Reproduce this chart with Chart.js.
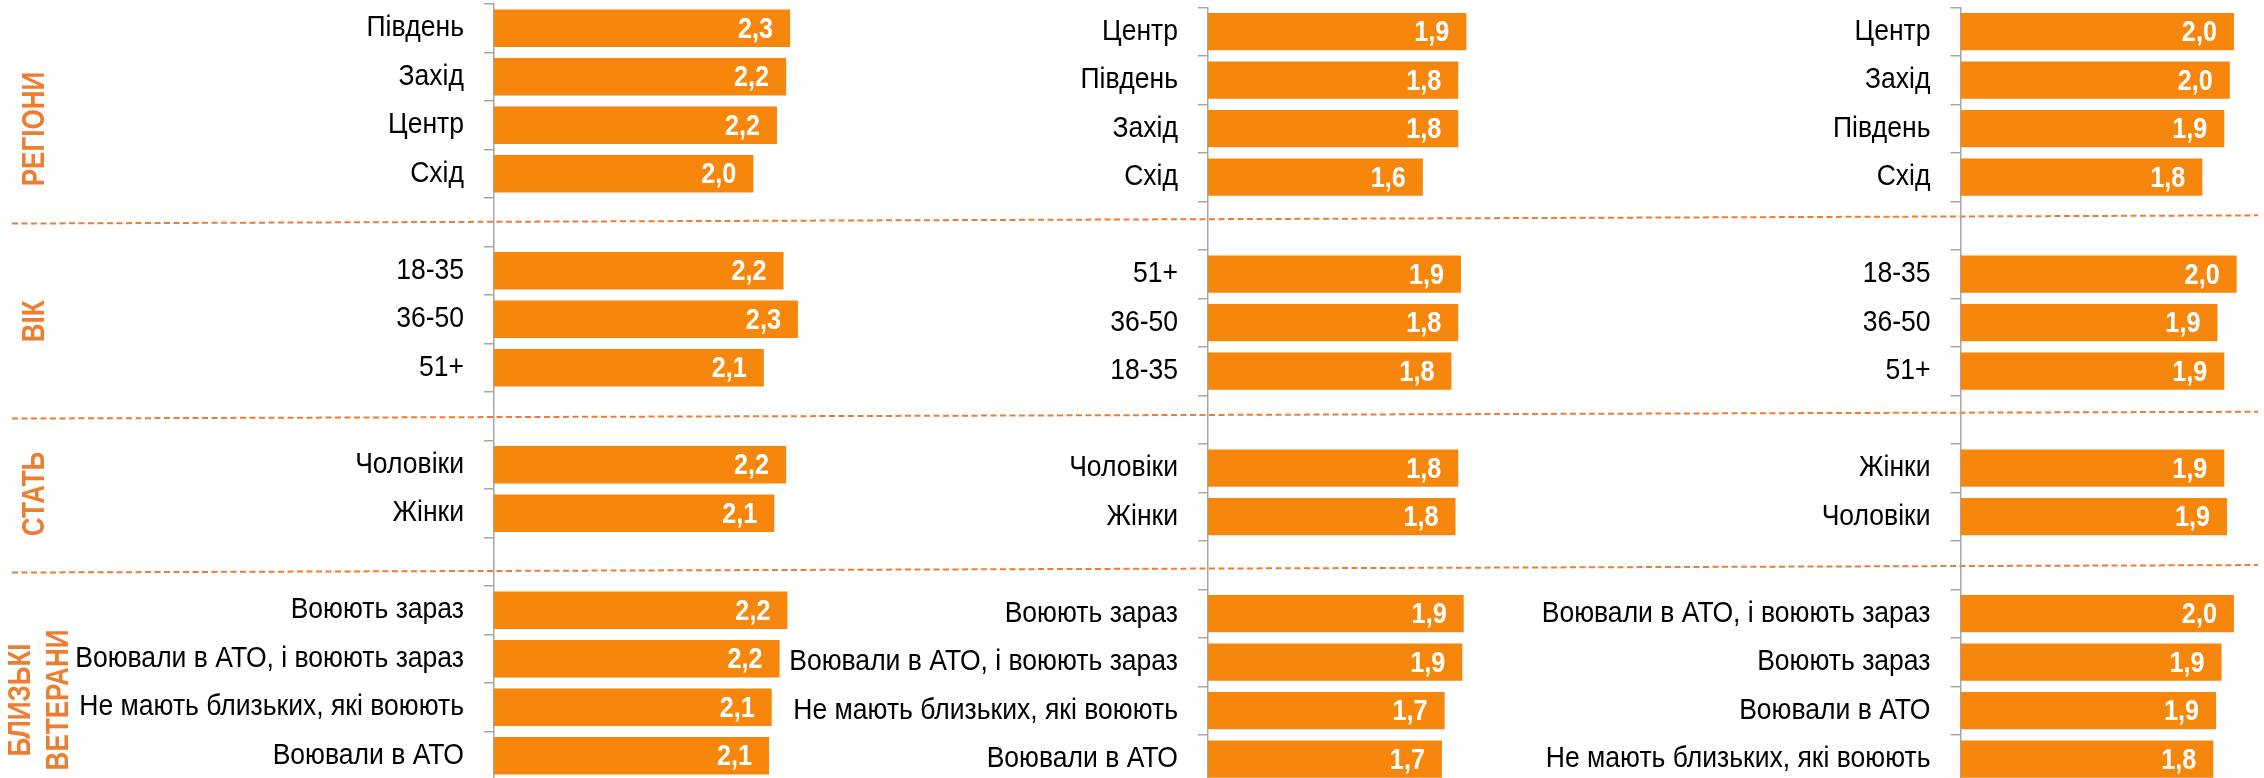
<!DOCTYPE html>
<html><head><meta charset="utf-8">
<script src="https://cdn.jsdelivr.net/npm/chart.js@4.4.1/dist/chart.umd.min.js"></script>
<style>
html,body{margin:0;padding:0;background:#fff;overflow:hidden;width:2264px;height:778px}
canvas{position:absolute;left:0;top:0}
</style></head>
<body>
<canvas id="c1" width="2264" height="790"></canvas>
<canvas id="c2" width="2264" height="790"></canvas>
<canvas id="c3" width="2264" height="790"></canvas>
<script>
// ---- data ----
const labelsA = ['Південь','Захід','Центр','Схід','','18-35','36-50','51+','','Чоловіки','Жінки','','Воюють зараз','Воювали в АТО, і воюють зараз','Не мають близьких, які воюють','Воювали в АТО'];
const valuesA = [2.26,2.23,2.16,1.98,null,2.21,2.32,2.06,null,2.23,2.14,null,2.24,2.18,2.12,2.10];

const labelsB = ['Центр','Південь','Захід','Схід','','51+','36-50','18-35','','Чоловіки','Жінки','','Воюють зараз','Воювали в АТО, і воюють зараз','Не мають близьких, які воюють','Воювали в АТО'];
const valuesB = [1.90,1.84,1.84,1.58,null,1.86,1.84,1.79,null,1.84,1.82,null,1.88,1.87,1.74,1.72];

const labelsC = ['Центр','Захід','Південь','Схід','','18-35','36-50','51+','','Жінки','Чоловіки','','Воювали в АТО, і воюють зараз','Воюють зараз','Воювали в АТО','Не мають близьких, які воюють'];
const valuesC = [1.99,1.96,1.92,1.76,null,2.01,1.87,1.92,null,1.92,1.94,null,1.99,1.90,1.86,1.84];

const groupNames = [['РЕГІОНИ'],['ВІК'],['СТАТЬ'],['БЛИЗЬКІ','ВЕТЕРАНИ']];

// ---- style / layout ----
const BAR = '#F7860C';
const ACCENT = '#ED7D31';
const AXIS = '#A6A6A6';
const FONT = '"Liberation Sans", Arial, sans-serif';
const YW = 480;           // fixed width of the category axis area
const CW = 2264, CH = 790;
const TICK_LEN = 10, TICK_PAD = 20;
const LABEL_SQUEEZE = 0.915, VALUE_SQUEEZE = 0.87, GROUP_SQUEEZE = 0.84;
const groupYOffset = [28, 2, 5, 17];
const dashLeftOff = [1.3, 2.3, 10.8];
const dashRightOff = [-6.9, -4.5, 3.3];

// condensed look for the category labels (drawn by the axis itself)
const condensedTicks = {
  id: 'condensedTicks',
  afterLayout(chart) {
    const sc = chart.scales.y;
    if (sc._condensed) return;
    const orig = sc.drawLabels;
    sc.drawLabels = function (area) {
      const ctx = this.ctx;
      const xr = this.right - TICK_LEN - TICK_PAD;
      ctx.save();
      ctx.translate(xr, 0);
      ctx.scale(LABEL_SQUEEZE, 1);
      ctx.translate(-xr, 0);
      orig.call(this, area);
      ctx.restore();
    };
    sc._condensed = true;
  }
};

const valueLabels = {
  id: 'valueLabels',
  afterDatasetsDraw(chart) {
    const ctx = chart.ctx;
    const meta = chart.getDatasetMeta(0);
    const data = chart.data.datasets[0].data;
    ctx.save();
    ctx.font = 'bold 29px ' + FONT;
    ctx.fillStyle = '#FFFFFF';
    ctx.textAlign = 'right';
    ctx.textBaseline = 'middle';
    meta.data.forEach((el, i) => {
      const v = data[i];
      if (v === null || v === undefined) return;
      ctx.save();
      ctx.translate(el.x - 17, el.y + 1.5);
      ctx.scale(VALUE_SQUEEZE, 1);
      ctx.fillText(v.toFixed(1).replace('.', ','), 0, 0);
      ctx.restore();
    });
    ctx.restore();
  }
};

const decor = {
  id: 'decor',
  afterDraw(chart) {
    const ctx = chart.ctx;
    const ys = chart.scales.y;
    const labels = chart.data.labels;
    const groups = []; let start = 0;
    const gaps = [];
    labels.forEach((l, i) => { if (l === '') { groups.push([start, i - 1]); gaps.push(i); start = i + 1; } });
    groups.push([start, labels.length - 1]);
    ctx.save();
    ctx.strokeStyle = ACCENT;
    ctx.lineWidth = 2;
    ctx.setLineDash([6, 3.5]);
    gaps.forEach((g, j) => {
      const y = ys.getPixelForTick(g);
      ctx.beginPath();
      ctx.moveTo(12, y + dashLeftOff[j]);
      ctx.lineTo(2258, y + dashRightOff[j]);
      ctx.stroke();
    });
    ctx.setLineDash([]);
    ctx.fillStyle = ACCENT;
    ctx.font = 'bold 31px ' + FONT;
    ctx.textAlign = 'center';
    ctx.textBaseline = 'middle';
    groups.forEach((g, j) => {
      const yc = (ys.getPixelForTick(g[0]) + ys.getPixelForTick(g[1])) / 2 + groupYOffset[j];
      const lines = groupNames[j];
      const lh = 38;
      const x0 = lines.length > 1 ? 20 : 34.5;
      lines.forEach((t, k) => {
        ctx.save();
        ctx.translate(x0 + k * lh, yc);
        ctx.rotate(-Math.PI / 2);
        ctx.scale(GROUP_SQUEEZE, 1);
        ctx.fillText(t, 0, 1);
        ctx.restore();
      });
    });
    ctx.restore();
  }
};

function makeChart(id, labels, values, axisX, right, top, max, extra) {
  const plugins = [condensedTicks, valueLabels];
  if (extra) plugins.push(extra);
  return new Chart(document.getElementById(id), {
    type: 'bar',
    data: { labels: labels, datasets: [{ data: values, backgroundColor: BAR, borderWidth: 0,
      barPercentage: 0.77, categoryPercentage: 1.0 }] },
    options: {
      indexAxis: 'y',
      responsive: false,
      animation: false,
      events: [],
      layout: { padding: { left: axisX - YW, right: CW - right, top: top, bottom: CH - (top + 776) } },
      plugins: { legend: { display: false }, tooltip: { enabled: false } },
      scales: {
        x: { display: false, min: 0, max: max },
        y: {
          border: { display: true, color: AXIS, width: 1.5 },
          grid: { display: true, drawOnChartArea: false, drawTicks: true, tickLength: TICK_LEN, color: AXIS, lineWidth: 1.5, offset: true },
          ticks: { color: '#000', font: { family: FONT, size: 29 }, padding: TICK_PAD, autoSkip: false },
          afterFit(scale) { scale.width = YW; scale.paddingTop = 0; scale.paddingBottom = 0; }
        }
      }
    },
    plugins: plugins
  });
}

makeChart('c1', labelsA, valuesA, 494, 494 + 2.5 * 131, 4, 2.5, decor);
makeChart('c2', labelsB, valuesB, 1208, 1208 + 2.5 * 136, 7.3, 2.5, null);
makeChart('c3', labelsC, valuesC, 1960.5, 1960.5 + 2.2 * 137.4, 7.3, 2.2, null);
</script>
</body></html>
